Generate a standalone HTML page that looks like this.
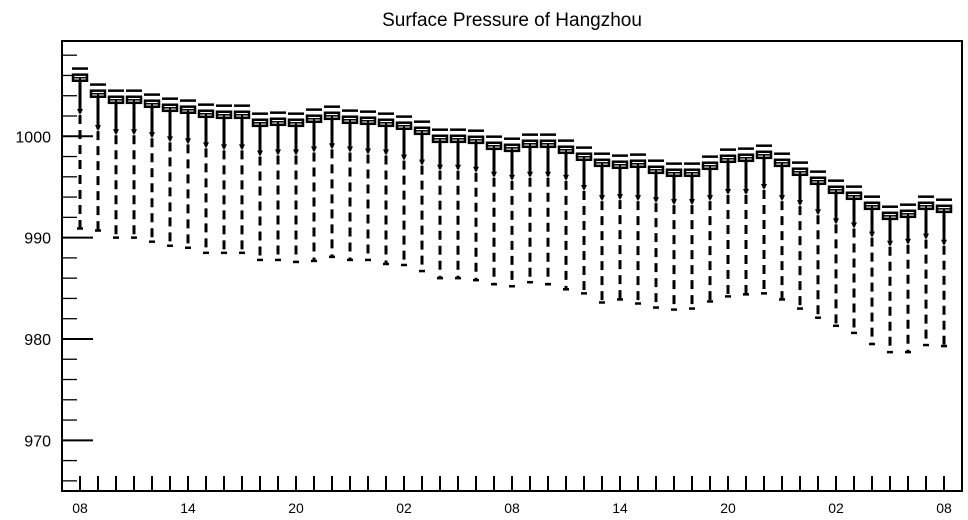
<!DOCTYPE html>
<html><head><meta charset="utf-8"><style>
html,body{margin:0;padding:0;background:#fff;}
svg{display:block;font-family:"Liberation Sans",sans-serif;}
</style></head><body>
<svg id="chart" width="968" height="520" xmlns="http://www.w3.org/2000/svg">
<text x="512" y="26" font-size="19" text-anchor="middle">Surface Pressure of Hangzhou</text>
<g id="axes"></g>
<g id="marks"></g>
</svg>
<script>
const xLabels = ["08","14","20","02","08","14","20","02","08"];
const yTicks = [970,980,990,1000];
const medians = [1005.78,1004.20,1003.60,1003.60,1003.21,1002.81,1002.62,1002.22,1002.12,1002.12,1001.33,1001.43,1001.33,1001.73,1002.02,1001.63,1001.53,1001.33,1001.04,1000.54,999.75,999.75,999.65,999.06,998.86,999.26,999.26,998.67,997.98,997.38,997.19,997.29,996.69,996.40,996.40,997.09,997.78,997.88,998.17,997.38,996.50,995.61,994.72,994.13,993.14,992.15,992.35,993.14,992.84];
const maxs = medians.map(function(m){return m+0.9;});
const q3s = medians.map(function(m){return m+0.3;});
const q1s = medians.map(function(m){return m-0.3;});
const lowerWhisker = [1002.3,1000.7,1000.3,1000.3,1000.0,999.6,999.4,999.0,998.8,998.8,998.2,998.3,998.3,998.6,998.9,998.6,998.4,998.3,997.8,997.3,996.8,996.8,996.6,996.1,995.8,996.1,996.1,995.8,994.8,993.8,993.9,993.8,993.6,993.4,993.4,993.8,994.4,994.4,994.9,993.8,993.3,992.4,991.5,991.1,990.2,989.3,989.5,990.0,989.4];
const mins = [990.9,990.7,990.0,990.0,989.6,989.2,989.0,988.5,988.5,988.5,987.8,987.8,987.6,987.7,988.1,987.8,987.8,987.4,987.3,986.7,986.0,986.0,985.8,985.4,985.2,985.6,985.4,984.9,984.5,983.6,983.9,983.5,983.1,982.9,983.0,983.7,984.2,984.4,984.5,983.9,983.0,982.1,981.3,980.6,979.5,978.7,978.7,979.4,979.3];

const L=62,R=962,T=41,B=491,YMIN=965,YMAX=1009.4;
const NS="http://www.w3.org/2000/svg";
function y(v){return B-(v-YMIN)/(YMAX-YMIN)*(B-T);}
function x(i){return 80+i*18;}
function mk(parent,tag,attrs){const e=document.createElementNS(NS,tag);for(const k in attrs)e.setAttribute(k,attrs[k]);parent.appendChild(e);return e;}
const axes=document.getElementById('axes'), marks=document.getElementById('marks');

let fr=mk(axes,'rect',{x:L,y:T,width:R-L,height:B-T,fill:'none',stroke:'#000','stroke-width':2});


for(let v=966;v<=1008;v+=2){
  const major=yTicks.indexOf(v)>=0;
  let t=mk(axes,'line',{x1:L,x2:L+(major?31:15),y1:y(v),y2:y(v),stroke:'#000','stroke-width':major?2:1.3});
  
  
}
yTicks.forEach(function(v){
  let t=mk(axes,'text',{x:51,y:y(v)+6,'font-size':16,'text-anchor':'end'});
  t.textContent=String(v);
  
  
});
for(let i=0;i<medians.length;i++){
  let t=mk(axes,'line',{x1:x(i),x2:x(i),y1:B,y2:B-15,stroke:'#000','stroke-width':2});
  
  
}
xLabels.forEach(function(s,k){
  let t=mk(axes,'text',{x:x(k*6),y:513,'font-size':14,'text-anchor':'middle'});
  t.textContent=s;
  
  
});

medians.forEach(function(m,i){
  const cx=x(i);
  const g=mk(marks,'g',{});
  
  
  mk(g,'line',{x1:cx,x2:cx,y1:y(lowerWhisker[i])+2,y2:y(mins[i]),stroke:'#000','stroke-width':3,'stroke-dasharray':'9,6'});
  mk(g,'line',{x1:cx-3,x2:cx+3,y1:y(mins[i]),y2:y(mins[i]),stroke:'#000','stroke-width':2.5});
  mk(g,'line',{x1:cx,x2:cx,y1:y(m),y2:y(lowerWhisker[i]),stroke:'#000','stroke-width':3});
  const ay=y(lowerWhisker[i]);
  mk(g,'polygon',{points:(cx-3)+','+(ay-4)+' '+(cx+3)+','+(ay-4)+' '+cx+','+(ay+2),fill:'#000'});
  mk(g,'rect',{x:cx-7,y:y(q3s[i]),width:14,height:y(q1s[i])-y(q3s[i]),fill:'#fff',stroke:'#000','stroke-width':2.5});
  mk(g,'line',{x1:cx-7,x2:cx+7,y1:y(m),y2:y(m),stroke:'#000','stroke-width':1.5});
  mk(g,'line',{x1:cx,x2:cx,y1:y(m),y2:y(q1s[i]),stroke:'#000','stroke-width':2});
  mk(g,'line',{x1:cx-8,x2:cx+8,y1:y(maxs[i]),y2:y(maxs[i]),stroke:'#000','stroke-width':2.5});
});
</script>
</body></html>
